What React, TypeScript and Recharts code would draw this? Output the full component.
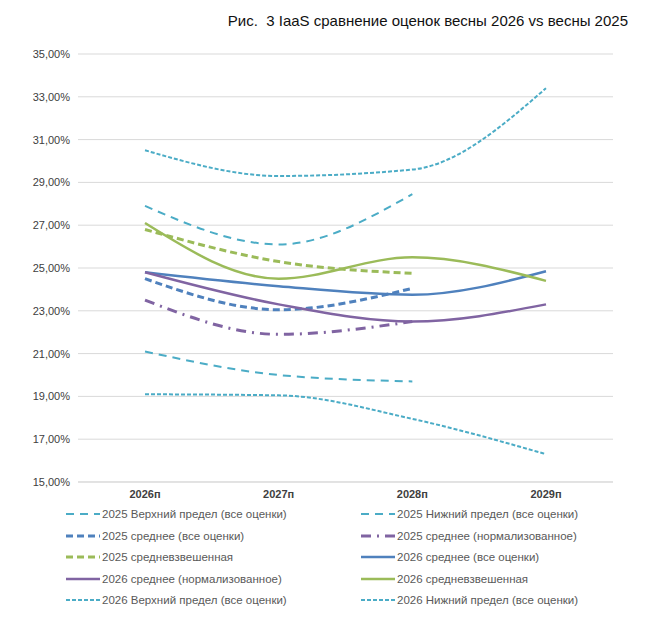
import React from "react";
import { LineChart, Line, XAxis, YAxis, CartesianGrid } from "recharts";

const categories = ["2026п", "2027п", "2028п", "2029п"];
const upper2025 = [27.9, 26.1, 28.45, null];
const lower2025 = [21.1, 20.0, 19.7, null];
const avg2025 = [24.5, 23.05, 24.05, null];
const norm2025 = [23.5, 21.9, 22.5, null];
const wavg2025 = [26.8, 25.3, 24.75, null];
const avg2026 = [24.8, 24.15, 23.75, 24.85];
const norm2026 = [24.8, 23.3, 22.5, 23.3];
const wavg2026 = [27.1, 24.5, 25.5, 24.4];
const upper2026 = [30.5, 29.3, 29.6, 33.4];
const lower2026 = [19.1, 19.05, 17.95, 16.3];
const yTicks = [15, 17, 19, 21, 23, 25, 27, 29, 31, 33, 35];

const data = categories.map((c, i) => ({
  c,
  upper2025: upper2025[i], lower2025: lower2025[i], avg2025: avg2025[i], norm2025: norm2025[i],
  wavg2025: wavg2025[i], avg2026: avg2026[i], norm2026: norm2026[i], wavg2026: wavg2026[i],
  upper2026: upper2026[i], lower2026: lower2026[i],
}));

const CY = "#4BACC6", BL = "#4F81BD", PU = "#8064A2", GR = "#9BBB59";
const series = [
  { key: "upper2025", name: "2025 Верхний предел (все оценки)", color: CY, dash: "8 6", w: 2 },
  { key: "lower2025", name: "2025 Нижний предел (все оценки)", color: CY, dash: "8 6", w: 2 },
  { key: "avg2025", name: "2025 среднее (все оценки)", color: BL, dash: "7 4", w: 3 },
  { key: "norm2025", name: "2025 среднее (нормализованное)", color: PU, dash: "10 6 2 6", w: 3 },
  { key: "wavg2025", name: "2025 средневзвешенная", color: GR, dash: "7 4", w: 3 },
  { key: "avg2026", name: "2026 среднее (все оценки)", color: BL, dash: undefined, w: 2.5 },
  { key: "norm2026", name: "2026 среднее (нормализованное)", color: PU, dash: undefined, w: 2.5 },
  { key: "wavg2026", name: "2026 средневзвешенная", color: GR, dash: undefined, w: 2.5 },
  { key: "upper2026", name: "2026 Верхний предел (все оценки)", color: CY, dash: "4 2", w: 2 },
  { key: "lower2026", name: "2026 Нижний предел (все оценки)", color: CY, dash: "4 2", w: 2 },
];

const fmt = (v: number) => v.toFixed(2).replace(".", ",") + "%";

export default function App() {
  return (
    <div style={{ position: "absolute", left: 0, top: 0, width: 646, height: 633, background: "#fff", fontFamily: "Liberation Sans, Arial, sans-serif" }}>
      <div style={{ position: "absolute", right: 18, top: 12, fontSize: 15, color: "#111" }}>
        Рис.&nbsp; 3 IaaS сравнение оценок весны 2026 vs весны 2025
      </div>
      <div style={{ position: "absolute", left: 0, top: 0 }}>
        <LineChart width={646} height={520} data={data} margin={{ top: 54, right: 33, left: 0, bottom: 8 }}>
          <CartesianGrid vertical={false} stroke="#d9d9d9" />
          <XAxis dataKey="c" height={30} tickLine={false} axisLine={{ stroke: "#d9d9d9" }} padding={{ left: 67, right: 67 }}
            tick={{ fontSize: 11, fill: "#404040", fontWeight: "bold" }} />
          <YAxis width={78} domain={[15, 35]} ticks={yTicks} tickFormatter={fmt} axisLine={false} tickLine={false}
            tick={{ fontSize: 11, fill: "#404040" }} />
          {series.map((s) => (
            <Line key={s.key} dataKey={s.key} name={s.name} type="monotone" stroke={s.color}
              strokeWidth={s.w} strokeDasharray={s.dash} dot={false} isAnimationActive={false} connectNulls={false} />
          ))}
        </LineChart>
      </div>
      {series.map((s, i) => {
        const col = i % 2, row = Math.floor(i / 2);
        return (
          <div key={s.key} style={{ position: "absolute", left: col === 0 ? 66 : 361, top: 508 + row * 21.5, display: "flex", alignItems: "center", fontSize: 11.5, color: "#595959" }}>
            <svg width={34} height={10} style={{ marginRight: 2 }}>
              <line x1={0} y1={5} x2={34} y2={5} stroke={s.color} strokeWidth={s.w} strokeDasharray={s.dash} />
            </svg>
            <span>{s.name}</span>
          </div>
        );
      })}
    </div>
  );
}
